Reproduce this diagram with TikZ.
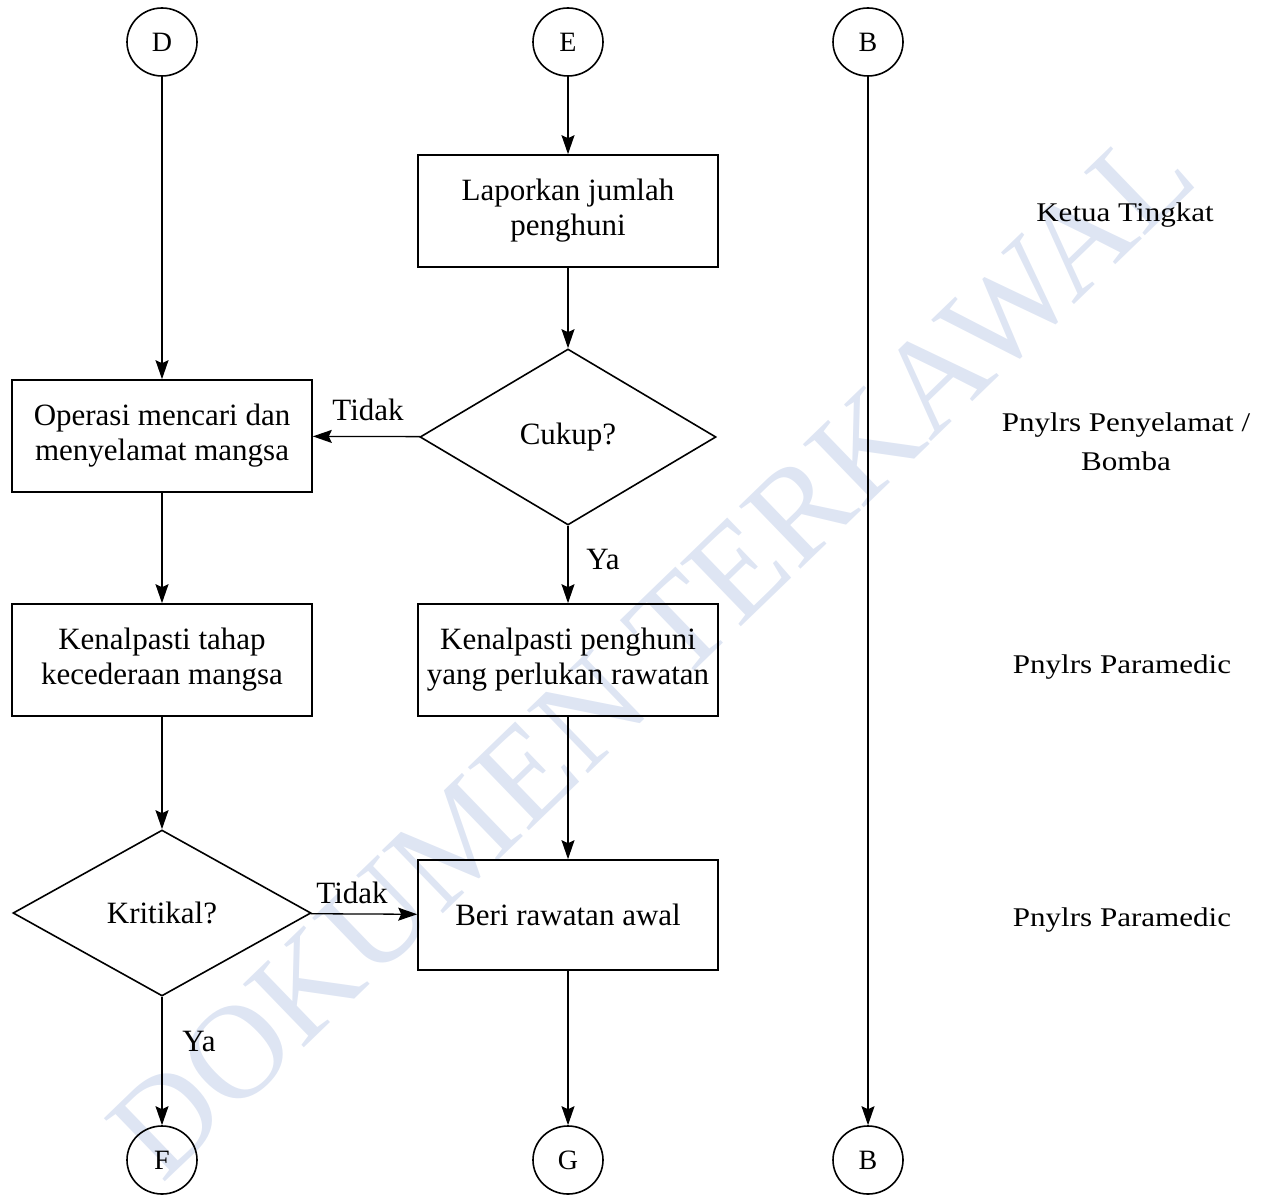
\documentclass[tikz,border=0pt]{standalone}
\usepackage{fontspec}
\setmainfont{Liberation Serif}
\newfontfamily\rolefont[FakeStretch=1.15]{Liberation Serif}
\usetikzlibrary{shapes.geometric,arrows.meta}

\definecolor{wmark}{RGB}{222,229,243}

\tikzstyle{conn} = [ellipse,draw,line width=.8pt,minimum width=35pt,minimum height=34pt,inner sep=0pt,font=\fontsize{14}{14}\selectfont]
\tikzstyle{process} = [rectangle,draw,line width=.8pt,minimum width=150pt,minimum height=56pt,align=center]
\tikzstyle{decision} = [diamond,draw,line width=.8pt,inner sep=0pt]
\tikzstyle{edge} = [-{Stealth[length=9.5pt,width=6.5pt,inset=1.5pt]},line width=.65pt]
\tikzstyle{label} = [font=\fontsize{15.5}{17.5}\selectfont]
\tikzstyle{role} = [align=center,font=\rolefont\fontsize{13.5}{19.5}\selectfont]

\begin{document}
\begin{tikzpicture}[x=.5pt,y=-.5pt,font=\fontsize{15.5}{17.5}\selectfont]

\useasboundingbox (0,0) rectangle (1262,1197);

% watermark
\node[rotate=44,text=wmark,font=\fontsize{67}{67}\selectfont,inner sep=0pt] (wm) at (652,652) {DOKUMEN TERKAWAL};

% vertices
\node[conn] (d) at (162,42) {D};
\node[conn] (e) at (568,42) {E};
\node[conn] (b1) at (868,42) {B};

\node[process] (lapor) at (568,211) {Laporkan jumlah\\penghuni};
\node[decision,minimum width=148pt,minimum height=88pt] (cukup) at (568,437) {Cukup?};
\node[process] (operasi) at (162,436) {Operasi mencari dan\\menyelamat mangsa};

\node[process] (tahap) at (162,660) {Kenalpasti tahap\\kecederaan mangsa};
\node[process] (rawat) at (568,660) {Kenalpasti penghuni\\yang perlukan rawatan};

\node[decision,minimum width=149pt,minimum height=83pt] (kritikal) at (162,913) {Kritikal?};
\node[process,minimum height=55pt] (awal) at (568,915) {Beri rawatan awal};

\node[conn] (f) at (162,1160) {F};
\node[conn] (g) at (568,1160) {G};
\node[conn] (b2) at (868,1160) {B};

% edges
\draw[edge] (d) -- (operasi);
\draw[edge] (e) -- (lapor);
\draw[edge] (lapor) -- (cukup);
\draw[edge] (cukup) -- (operasi);
\draw[edge] (cukup) -- (rawat);
\draw[edge] (operasi) -- (tahap);
\draw[edge] (tahap) -- (kritikal);
\draw[edge] (rawat) -- (awal);
\draw[edge] (kritikal) -- (awal);
\draw[edge] (kritikal) -- (f);
\draw[edge] (awal) -- (g);
\draw[edge] (b1) -- (b2);

% edge labels
\node[label] (t1) at (368,410) {Tidak};
\node[label] (y1) at (603,560) {Ya};
\node[label] (t2) at (352,893) {Tidak};
\node[label] (y2) at (199,1041) {Ya};

% roles
\node[role] (r1) at (1125,215) {Ketua Tingkat};
\node[role] (r2) at (1126,442) {Pnylrs Penyelamat /\\Bomba};
\node[role] (r3) at (1122,667) {Pnylrs Paramedic};
\node[role] (r4) at (1122,920) {Pnylrs Paramedic};

\end{tikzpicture}
\end{document}
